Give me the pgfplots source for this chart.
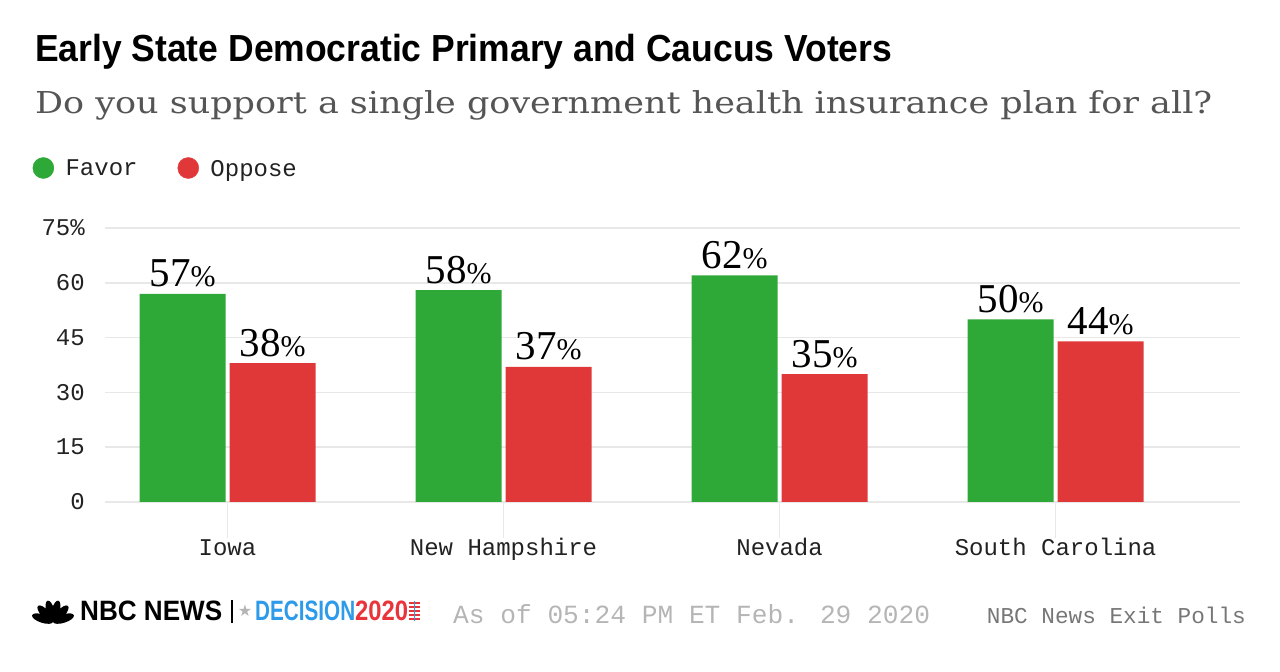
\documentclass[border=0pt]{standalone}
\usepackage{fontspec}
\usepackage{graphicx}
\usepackage{pgfplots}
\pgfplotsset{compat=1.18}
\setmainfont{Liberation Serif}
\newfontfamily\titlefont{Liberation Sans}
\newfontfamily\subfont{DejaVu Serif}
\newfontfamily\monofont{Liberation Mono}
\newfontfamily\symfont{DejaVu Sans}
\definecolor{favc}{HTML}{2EA836}
\definecolor{oppc}{HTML}{E03838}
\definecolor{gridc}{HTML}{E8E8E8}
\definecolor{textc}{HTML}{222222}
\definecolor{subc}{HTML}{555555}
\definecolor{footc}{HTML}{B5B5B5}
\definecolor{srcc}{HTML}{777777}
\definecolor{decblue}{HTML}{2E9BEA}
\definecolor{decred}{HTML}{E8343A}
\newcommand\barlabel{\fontsize{41}{41}\selectfont\pgfmathprintnumber{\pgfplotspointmeta}\fontsize{30}{30}\selectfont\%}
\begin{document}
\begin{tikzpicture}[x=1pt,y=1pt]
\path[use as bounding box] (0,0) rectangle (1280,672);
% titles
\node[anchor=base west, inner sep=0pt] at (35,610)
  {\resizebox{857pt}{\height}{\titlefont\bfseries\fontsize{37.7}{40}\selectfont Early State Democratic Primary and Caucus Voters}};
\node[anchor=base west, inner sep=0pt, text=subc] at (35,558)
  {\resizebox{1177pt}{\height}{\subfont\fontsize{30.2}{32}\selectfont Do you support a single government health insurance plan for all?}};

\begin{axis}[
  at={(105pt,170pt)}, anchor=south west,
  scale only axis, width=1135pt, height=274pt,
  xmin=-0.4438, xmax=3.668, ymin=0, ymax=75,
  ybar, bar width=86pt,
  axis line style={draw=none},
  tick pos=left,
  ytick={0,15,30,45,60,75},
  yticklabels={0,15,30,45,60,75\%},
  ymajorgrids, grid style={draw=gridc, line width=1.5pt},
  y tick style={draw=none},
  yticklabel style={font=\monofont\fontsize{24}{24}\selectfont, text=textc, anchor=east, inner sep=0pt, xshift=-20pt},
  xtick={0,1,2,3},
  xticklabels={Iowa,New Hampshire,Nevada,South Carolina},
  major tick length=36pt,
  x tick style={draw=gridc, line width=1.5pt},
  xticklabel style={font=\monofont\fontsize{24}{24}\selectfont, text=textc, anchor=base, inner sep=0pt, yshift=-17pt},
  /pgf/number format/assume math mode=true,
  nodes near coords={\barlabel},
  every node near coord/.append style={anchor=base, inner sep=0pt, yshift=7pt, text=black},
  legend columns=2,
  legend cell align=left,
  legend style={draw=none, fill=none, inner sep=0pt, at={(-0.0639,1.219)}, anchor=west,
    font=\monofont\fontsize{24}{24}\selectfont, text=textc,
    nodes={inner sep=0pt, text depth=0pt},
    column sep=11.5pt,
    /tikz/every even column/.append style={column sep=40pt}},
]
\addplot[fill=favc, draw=none, bar shift=-45pt, forget plot]
  coordinates {(0,57) (1,58) (2,62) (3,50)};
\addplot[fill=oppc, draw=none, bar shift=45pt, forget plot]
  coordinates {(0,38) (1,37) (2,35) (3,44)};
\addlegendimage{legend image code/.code={\fill[favc] (10.5pt,0pt) circle (10.5pt);}}
\addlegendentry{Favor}
\addlegendimage{legend image code/.code={\fill[oppc] (10.5pt,0pt) circle (10.5pt);}}
\addlegendentry{Oppose}
\end{axis}

% footer
\begin{scope}[shift={(53,50)}]
  \foreach \a in {-72,-43,-14,14,43,72}
    \fill[black, rotate=\a] (0,11) ellipse (4.2 and 11);
\end{scope}
\node[anchor=base west, inner sep=0pt] at (80,51)
  {\resizebox{142pt}{\height}{\titlefont\bfseries\fontsize{28}{28}\selectfont NBC NEWS}};
\draw[black, line width=1.3pt] (232,72) -- (232,49);
\node[inner sep=0pt, text=footc] at (245,61) {\symfont\fontsize{16}{16}\selectfont ★};
\node[anchor=base west, inner sep=0pt, text=decblue] at (255,51)
  {\resizebox{100pt}{\height}{\titlefont\bfseries\fontsize{28}{28}\selectfont DECISION}};
\node[anchor=base west, inner sep=0pt, text=decred] at (355,51)
  {\resizebox{53pt}{\height}{\titlefont\bfseries\fontsize{28}{28}\selectfont 2020}};
\foreach \yy in {53,57,61,65,69}
  \draw[decred, line width=1.6pt] (409,\yy) -- (420,\yy);
\draw[decblue, line width=1pt] (414,51) -- (414,71);
\node[anchor=base west, inner sep=0pt, text=footc] at (453,48)
  {\monofont\fontsize{26.2}{26.2}\selectfont As of 05:24 PM ET Feb. 29 2020};
\node[anchor=base east, inner sep=0pt, text=srcc] at (1246,48)
  {\monofont\fontsize{22.7}{22.7}\selectfont NBC News Exit Polls};
\end{tikzpicture}
\end{document}
